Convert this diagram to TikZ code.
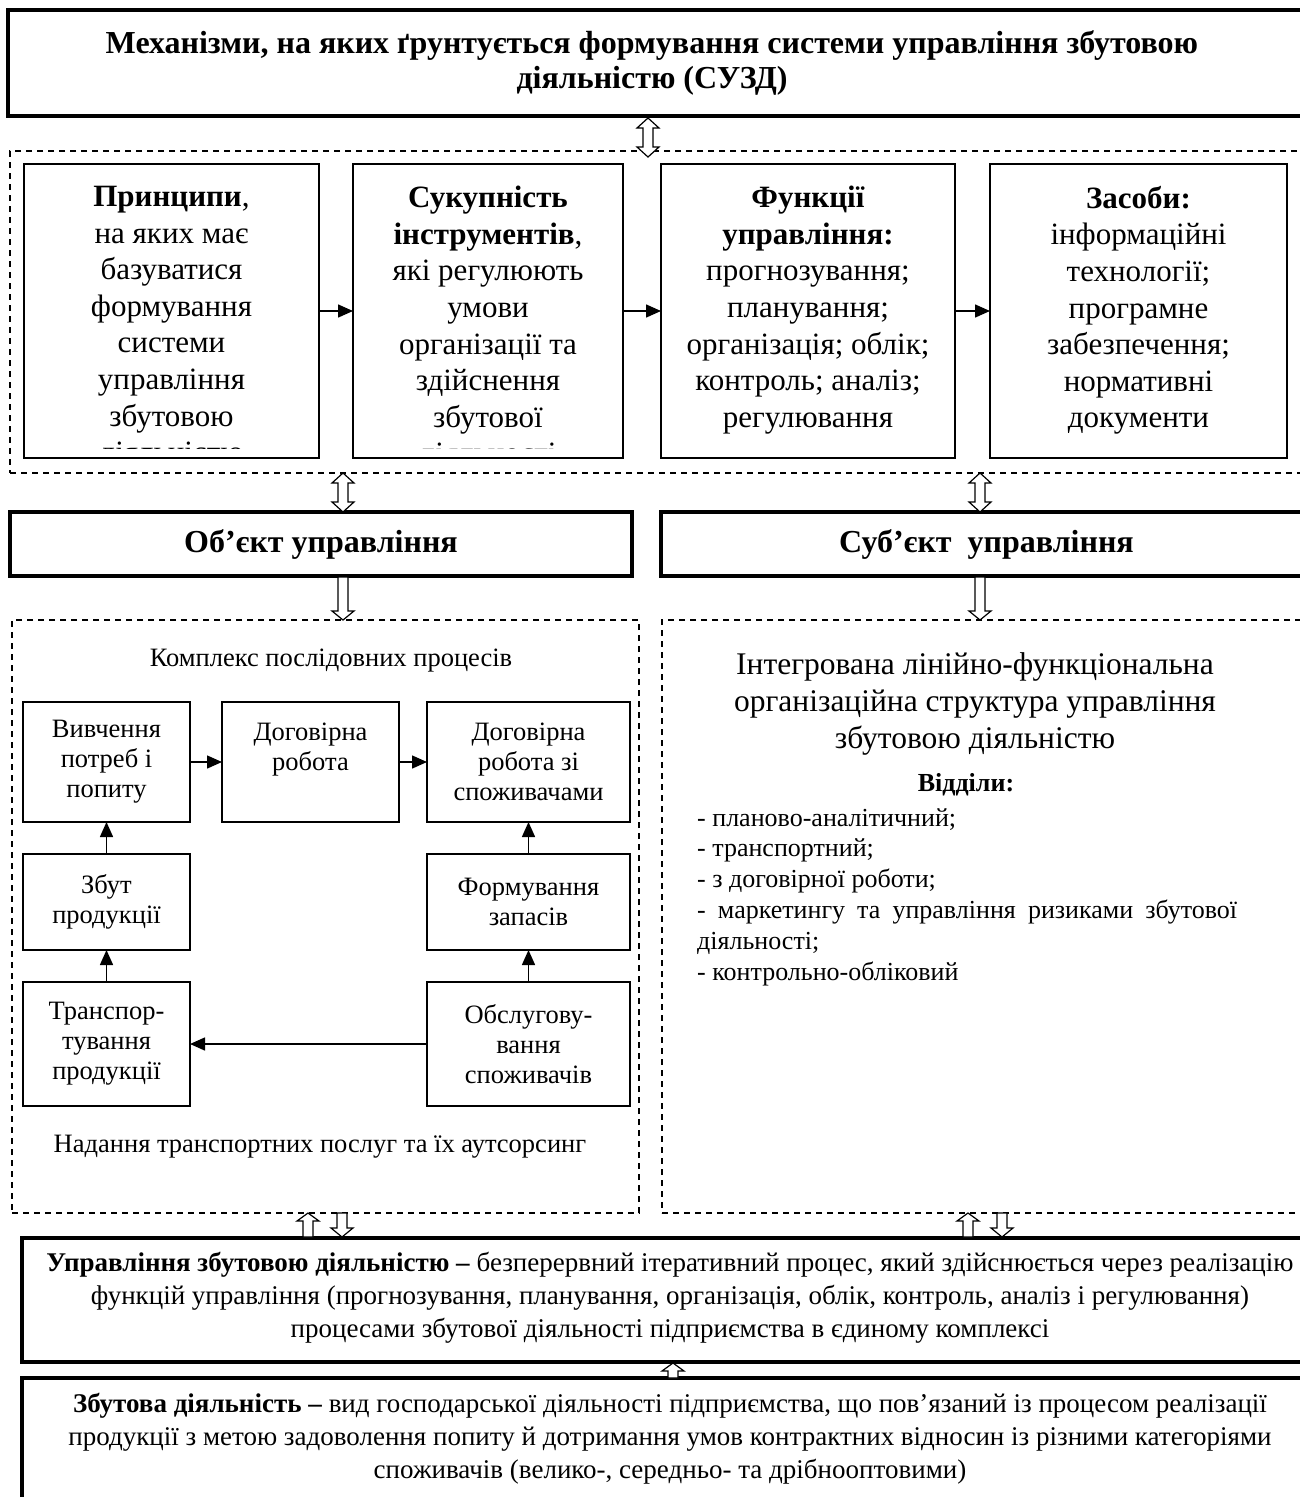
\documentclass[tikz,border=0pt]{standalone}
\usepackage{fontspec}
\setmainfont{Liberation Serif}
\usetikzlibrary{positioning}
\usetikzlibrary{calc}
\usetikzlibrary{arrows.meta}

\begin{document}
\begin{tikzpicture}[
x=1pt, y=-1pt,
heavybox/.style={
    rectangle,
    draw=black,
    line width=4pt,
    inner sep=0pt, % text sits in its own node
    outer sep=0pt,
},
plainbox/.style={
    rectangle,
    draw=black,
    line width=1.5pt,
    inner sep=0pt,
    outer sep=0pt,
    align=center,
    font=\fontsize{26.5}{30}\selectfont,
},
dashedframe/.style={
    rectangle,
    draw=black,
    line width=1.3pt,
    dash pattern=on 6pt off 5pt,
    inner sep=0pt,
},
bigtext/.style={align=center, font=\fontsize{31}{36.6}\selectfont, inner sep=0pt},
widetext/.style={align=center, font=\fontsize{27}{33}\selectfont, inner sep=0pt},
flow/.style={-{Triangle[length=15pt,width=13pt]}, line width=1.5pt},
hollow/.style={draw=black, fill=white, line width=1.2pt, line join=miter},
]
\useasboundingbox (0,0) rectangle (1299,1497);

% header
\node[heavybox, minimum width=1304pt, minimum height=106pt] (title) at (660,63) {};
\node[bigtext, font=\fontsize{32}{35}\selectfont\bfseries] (title-t) at (652,63)
    {Механізми, на яких ґрунтується формування системи управління збутовою\\діяльністю (СУЗД)};

% four components
\node[dashedframe, minimum width=1302pt, minimum height=322pt] (frame) at (661,312) {};
\node[plainbox, minimum width=295pt, minimum height=294pt] (P1) at (171.5,311) {};
\node[plainbox, minimum width=270pt, minimum height=294pt] (P2) at (488,311) {};
\node[plainbox, minimum width=294pt, minimum height=294pt] (P3) at (808,311) {};
\node[plainbox, minimum width=297pt, minimum height=294pt] (P4) at (1138.5,311) {};

\begin{scope}
\clip (P1.north west) rectangle ($(P1.south east)+(0,-10)$);
\node[bigtext, anchor=north] (P1-t) at ($(P1.north)+(0,22)$)
    {\textbf{Принципи},\\на яких має\\базуватися\\формування\\системи\\управління\\збутовою\\діяльністю};
\end{scope}
\begin{scope}
\clip (P2.north west) rectangle ($(P2.south east)+(0,-10)$);
\node[bigtext, anchor=north] (P2-t) at ($(P2.north)+(0,22)$)
    {\textbf{Сукупність}\\\textbf{інструментів},\\які регулюють\\умови\\організації та\\здійснення\\збутової\\діяльності};
\end{scope}
\node[bigtext, anchor=north] (P3-t) at ($(P3.north)+(0,22)$)
    {\textbf{Функції}\\\textbf{управління:}\\прогнозування;\\планування;\\організація; облік;\\контроль; аналіз;\\регулювання};
\node[bigtext, anchor=north] (P4-t) at ($(P4.north)+(0,22)$)
    {\textbf{Засоби:}\\інформаційні\\технології;\\програмне\\забезпечення;\\нормативні\\документи};

\draw[flow] (P1.east) -- (P2.west);
\draw[flow] (P2.east) -- (P3.west);
\draw[flow] (P3.east) -- (P4.west);

% object and subject
\node[heavybox, minimum width=622pt, minimum height=64pt, font=\fontsize{32}{36}\selectfont\bfseries] (obj) at (321,544) {Об’єкт управління};
\node[heavybox, minimum width=651pt, minimum height=64pt, font=\fontsize{32}{36}\selectfont\bfseries] (subj) at (986.5,544) {Суб’єкт\ \ управління};

\node[dashedframe, minimum width=627pt, minimum height=593pt] (procs) at (325.5,916.5) {};
\node[dashedframe, minimum width=650pt, minimum height=593pt] (struct) at (987,916.5) {};

% chain of processes
\node[font=\fontsize{26.5}{30}\selectfont] (procs-t) at (331,661) {Комплекс послідовних процесів};
\node[plainbox, minimum width=167pt, minimum height=120pt] (study) at (106.5,762) {Вивчення\\потреб і\\попиту};
\node[plainbox, minimum width=177pt, minimum height=120pt] (contract) at (310.5,762) {Договірна\\робота\\~};
\node[plainbox, minimum width=203pt, minimum height=120pt] (clients) at (528.5,762) {Договірна\\робота зі\\споживачами};
\node[plainbox, minimum width=167pt, minimum height=96pt] (sales) at (106.5,902) {Збут\\продукції};
\node[plainbox, minimum width=203pt, minimum height=96pt] (stock) at (528.5,902) {Формування\\запасів};
\node[plainbox, minimum width=167pt, minimum height=124pt] (haul) at (106.5,1044) {Транспор-\\тування\\продукції};
\node[plainbox, minimum width=203pt, minimum height=124pt] (service) at (528.5,1044) {Обслугову-\\вання\\споживачів};
\node[font=\fontsize{26.5}{30}\selectfont] (haul-t) at (320,1147) {Надання транспортних послуг та їх аутсорсинг};

\draw[flow] (study.east) -- (contract.west);
\draw[flow] (contract.east) -- (clients.west);
\draw[flow] (sales.north) -- (study.south);
\draw[flow] (haul.north) -- (sales.south);
\draw[flow] (stock.north) -- (clients.south);
\draw[flow] (service.north) -- (stock.south);
\draw[flow] (service.west) -- (haul.east);

% structure
\node[bigtext, font=\fontsize{31.5}{36.6}\selectfont] (struct-t) at (975,704)
    {Інтегрована лінійно-функціональна\\організаційна структура управління\\збутовою діяльністю};
\node[font=\fontsize{26}{30}\selectfont\bfseries] (depts) at (966,785) {Відділи:};
\node[anchor=north west, align=left, inner sep=0pt, font=\fontsize{26}{30.8}\selectfont] (depts-l) at (697,808)
    {- планово-аналітичний;\\- транспортний;\\- з договірної роботи;\\\makebox[540pt][s]{- маркетингу та управління ризиками збутової}\\діяльності;\\- контрольно-обліковий};

% bottom definitions
\node[heavybox, minimum width=1290pt, minimum height=124pt] (mgmt) at (667,1300) {};
\node[widetext] (mgmt-t) at (670,1298)
    {\textbf{Управління збутовою діяльністю –} безперервний ітеративний процес, який здійснюється через реалізацію\\функцій управління (прогнозування, планування, організація, облік, контроль, аналіз і регулювання)\\процесами збутової діяльності підприємства в єдиному комплексі};
\node[heavybox, minimum width=1290pt, minimum height=142pt] (sales-def) at (667,1449) {};
\node[widetext] (sales-def-t) at (670,1439)
    {\textbf{Збутова діяльність –} вид господарської діяльності підприємства, що пов’язаний із процесом реалізації\\продукції з метою задоволення попиту й дотримання умов контрактних відносин із різними категоріями\\споживачів (велико-, середньо- та дрібнооптовими)};

% hollow arrows: double, down, up
\foreach \x/\ya/\yb in {648/118/157, 343/473/512, 980/473/512}
  \draw[hollow] (\x,\ya) -- (\x+11,\ya+10) -- (\x+5,\ya+10) -- (\x+5,\yb-10) -- (\x+11,\yb-10) -- (\x,\yb)
    -- (\x-11,\yb-10) -- (\x-5,\yb-10) -- (\x-5,\ya+10) -- (\x-11,\ya+10) -- cycle;
\foreach \x/\ya/\yb in {343/577/620, 980/577/620, 342/1213/1237, 1002/1213/1237}
  \draw[hollow] (\x,\yb) -- (\x+11,\yb-9) -- (\x+5,\yb-9) -- (\x+5,\ya) -- (\x-5,\ya) -- (\x-5,\yb-9)
    -- (\x-11,\yb-9) -- cycle;
\foreach \x/\ya/\yb in {308/1213/1237, 968/1213/1237, 673/1363/1378}
  \draw[hollow] (\x,\ya) -- (\x+11,\ya+8) -- (\x+5,\ya+8) -- (\x+5,\yb) -- (\x-5,\yb) -- (\x-5,\ya+8)
    -- (\x-11,\ya+8) -- cycle;

\end{tikzpicture}
\end{document}
